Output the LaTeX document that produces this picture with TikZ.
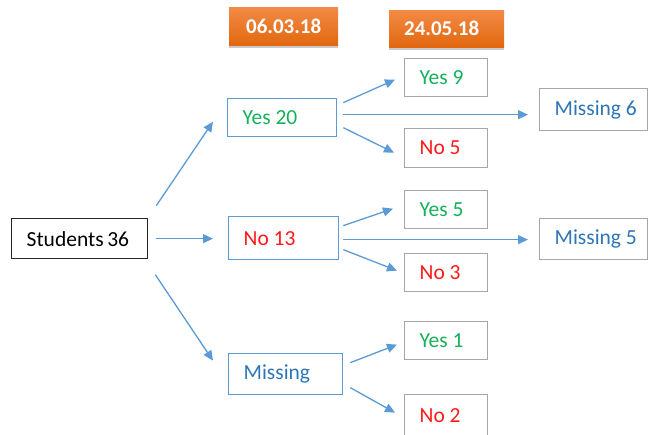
\documentclass[tikz,border=0pt]{standalone}
\usepackage{fontspec}
\setmainfont{Carlito}
\usetikzlibrary{arrows.meta,calc,shadows}
\definecolor{arrowblue}{HTML}{5B9BD5}
\definecolor{boxblue}{HTML}{5B9BD5}
\definecolor{boxgray}{HTML}{A6A6A6}
\definecolor{txtgreen}{HTML}{14B05A}
\definecolor{txtred}{HTML}{FF1A1A}
\definecolor{txtblue}{HTML}{2E75B6}
\definecolor{orangetop}{HTML}{F28A45}
\definecolor{orangebot}{HTML}{E2680F}
\newcommand\lefttext[2]{\makebox[#1][l]{#2}}
\tikzset{
  cell/.style={draw, line width=1.3pt, anchor=north west, inner xsep=15pt, inner ysep=0pt,
    font=\fontsize{21.5}{24}\selectfont},
  bluecell/.style={cell, draw=boxblue},
  graycell/.style={cell, draw=boxgray},
  blackcell/.style={cell, draw=black!85},
  datebox/.style={anchor=north west, inner sep=0pt, top color=orangetop, bottom color=orangebot,
    draw=none, text=white, font=\fontsize{21}{24}\selectfont\bfseries,
    drop shadow={shadow xshift=0pt, shadow yshift=-2.5pt, opacity=0.35, fill=black!60}},
  arr/.style={draw=arrowblue, line width=1.3pt, -{Triangle[length=10pt,width=9pt]}}
}
\begin{document}
\begin{tikzpicture}[x=1pt,y=-1pt]
\useasboundingbox (0,0) rectangle (648,434);
\clip (0,0) rectangle (648,434);
% date labels
\node[datebox, minimum width=109pt, minimum height=38pt] (d1) at (229,7) {06.03.18};
\node[datebox, minimum width=115pt, minimum height=37pt] (d2) at (389,10) {\hspace*{-10pt}24.05.18};
% first column
\node[blackcell, minimum height=40pt] (students) at (11,218) {\lefttext{106pt}{Students\,36}};
\node[bluecell, minimum height=38pt, text=txtgreen] (yes20) at (227,98) {\lefttext{79pt}{Yes 20}};
\node[bluecell, minimum height=43pt, text=txtred] (no13) at (228,216) {\lefttext{80pt}{No 13}};
\node[bluecell, minimum height=41pt, text=txtblue] (missing) at (228,353) {\lefttext{84pt}{\raisebox{-2pt}{Missing}}};
% second column
\node[graycell, minimum height=38pt, text=txtgreen] (yes9) at (404,58) {\lefttext{53pt}{Yes 9}};
\node[graycell, minimum height=39pt, text=txtred] (no5) at (404,128) {\lefttext{53pt}{No 5}};
\node[graycell, minimum height=38pt, text=txtgreen] (yes5) at (404,190) {\lefttext{53pt}{Yes 5}};
\node[graycell, minimum height=38pt, text=txtred] (no3) at (404,253) {\lefttext{53pt}{No 3}};
\node[graycell, minimum height=38pt, text=txtgreen] (yes1) at (404,321) {\lefttext{53pt}{Yes 1}};
\node[graycell, minimum height=42pt, text=txtred] (no2) at (404,394) {\lefttext{53pt}{No 2}};
% third column
\node[graycell, minimum height=42pt, text=txtblue] (missing6) at (539,88) {\lefttext{78pt}{Missing 6}};
\node[graycell, minimum height=41pt, text=txtblue] (missing5) at (539,218) {\lefttext{78pt}{Missing 5}};
% connectors
\draw[arr] ($(students.east)+(8,-33)$) -- ($(yes20.west)+(-14,4)$);
\draw[arr] ($(students.east)+(8,0)$) -- ($(no13.west)+(-15,0.5)$);
\draw[arr] ($(students.east)+(7,36)$) -- ($(missing.west)+(-15,-13.5)$);
\draw[arr] ($(yes20.east)+(6,-15)$) -- ($(yes9.west)+(-9,2)$);
\draw[arr] ($(yes20.east)+(6,-3)$) -- ($(missing6.west)+(-11,5)$);
\draw[arr] ($(yes20.east)+(6,10)$) -- ($(no5.west)+(-10,4.5)$);
\draw[arr] ($(no13.east)+(4,-12.5)$) -- ($(yes5.west)+(-11,-1)$);
\draw[arr] ($(no13.east)+(4,1.5)$) -- ($(missing5.west)+(-11,0.5)$);
\draw[arr] ($(no13.east)+(4,11.5)$) -- ($(no3.west)+(-7,-2)$);
\draw[arr] ($(missing.east)+(7,-11.5)$) -- ($(yes1.west)+(-7,4)$);
\draw[arr] ($(missing.east)+(7,13.5)$) -- ($(no2.west)+(-9,-3)$);
\end{tikzpicture}
\end{document}
